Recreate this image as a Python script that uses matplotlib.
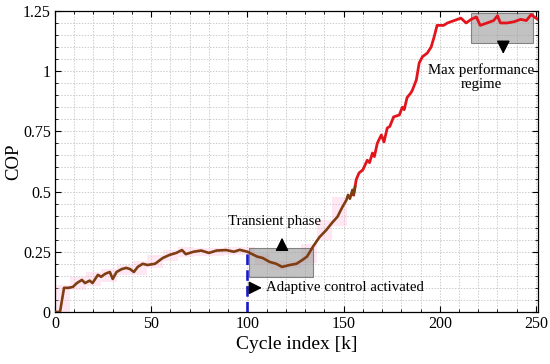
import numpy as np
import matplotlib
matplotlib.use("Agg")
import matplotlib.pyplot as plt
from matplotlib.ticker import MultipleLocator, FuncFormatter
from matplotlib.patches import Rectangle

# ---- data ----
brown_x = [0, 2.6, 4.7, 7, 9.3, 11.4, 14, 15.6, 18, 19.5, 22.3, 24, 26, 28.5, 30, 32,
           34.7, 37, 39, 41, 43, 45.6, 48, 52, 56, 59.6, 63, 66, 68, 72, 76, 80, 84,
           89, 93, 96, 100, 105, 108, 111.5, 115, 118, 122, 125.5, 128.6, 131, 134,
           137.4, 141, 144, 146.8, 149.4, 151.5, 152.3, 153.3, 154.6, 155.2, 156]
brown_y = [0, 0, 0.10, 0.10, 0.104, 0.12, 0.133, 0.12, 0.13, 0.12, 0.154, 0.146, 0.158,
           0.166, 0.137, 0.166, 0.178, 0.183, 0.178, 0.166, 0.187, 0.20, 0.195, 0.20,
           0.224, 0.237, 0.245, 0.257, 0.24, 0.25, 0.255, 0.245, 0.255, 0.257, 0.25,
           0.258, 0.25, 0.23, 0.224, 0.208, 0.20, 0.187, 0.195, 0.20, 0.216, 0.23, 0.27,
           0.31, 0.34, 0.37, 0.395, 0.436, 0.465, 0.486, 0.47, 0.507, 0.486, 0.52]

red_x = [155.2, 156.6, 158, 160, 162.3, 163.5, 165, 166, 167.5, 169.6, 171, 172.7, 174,
         176, 179, 180.5, 181.5, 183, 185, 185.7, 187.8, 189.3, 191, 193.5, 195.5, 197,
         198.6, 202, 204, 207.5, 211, 213.7, 216.3, 219, 221, 224.6, 228, 230, 231.5,
         235, 238.6, 242, 245, 247.5, 250, 251]
red_y = [0.486, 0.55, 0.577, 0.59, 0.63, 0.62, 0.66, 0.645, 0.70, 0.735, 0.706, 0.764,
         0.77, 0.81, 0.818, 0.85, 0.84, 0.89, 0.91, 0.92, 0.963, 1.034, 1.06, 1.075,
         1.10, 1.14, 1.19, 1.19, 1.20, 1.21, 1.22, 1.20, 1.215, 1.225, 1.19, 1.20, 1.21,
         1.23, 1.20, 1.20, 1.205, 1.215, 1.21, 1.235, 1.22, 1.215]

x_ticks = [0, 50, 100, 150, 200, 250]
y_ticks = [0, 0.25, 0.5, 0.75, 1.0, 1.25]

plt.rcParams['font.family'] = ['Liberation Serif', 'DejaVu Serif']
plt.rcParams['mathtext.fontset'] = 'stix'

fig = plt.figure(figsize=(5.5, 3.64), dpi=100)
ax = fig.add_axes([0.1, 0.143, 0.878, 0.827])

# pink blocky band around brown curve
bx = np.array(brown_x)
by = np.array(brown_y)
edges = np.arange(0, 160, 8)
for i in range(len(edges) - 1):
    m = (bx >= edges[i]) & (bx <= edges[i + 1])
    if m.sum() == 0:
        continue
    lo = by[m].min() - 0.012
    hi = by[m].max() + 0.012
    ax.add_patch(Rectangle((edges[i], lo), 8, hi - lo, facecolor='#ffb6d9',
                           alpha=0.3, edgecolor='none', zorder=1))

ax.plot(red_x, red_y, color='#e3141c', lw=2.0, zorder=4)
ax.plot(brown_x, brown_y, color='#7f3d12', lw=1.9, zorder=4)

# blue dashed vertical line
ax.plot([100, 100], [0, 0.25], color='#1a1ac8', lw=1.9, ls=(0, (4, 2)), zorder=5)

# gray boxes
ax.add_patch(Rectangle((101, 0.145), 33, 0.12, facecolor='#9a9a9a', alpha=0.6,
                       edgecolor='#444444', lw=0.8, zorder=3))
ax.add_patch(Rectangle((216, 1.117), 32.5, 0.123, facecolor='#9a9a9a', alpha=0.6,
                       edgecolor='#444444', lw=0.8, zorder=3))

# annotations
fs = 10.7
ap = dict(arrowstyle='-|>,head_length=0.8,head_width=0.4', color='black', lw=1)
ax.annotate('', xy=(118, 0.32), xytext=(118, 0.267), arrowprops=ap, zorder=6)
ax.text(114, 0.375, 'Transient phase', ha='center', va='center', fontsize=fs, zorder=6)
ax.annotate('', xy=(109, 0.1), xytext=(101.5, 0.1), arrowprops=ap, zorder=6)
ax.text(109.5, 0.1, 'Adaptive control activated', ha='left', va='center', fontsize=fs, zorder=6)
ax.annotate('', xy=(233, 1.06), xytext=(233, 1.117), arrowprops=ap, zorder=6)
ax.text(221.5, 0.975, 'Max performance\nregime', ha='center', va='center', fontsize=fs,
        linespacing=1.1, zorder=6)

ax.set_xlim(0, 251)
ax.set_ylim(0, 1.25)
ax.set_xticks(x_ticks)
ax.set_yticks(y_ticks)
ax.xaxis.set_minor_locator(MultipleLocator(10))
ax.yaxis.set_minor_locator(MultipleLocator(0.05))
ax.yaxis.set_major_formatter(FuncFormatter(lambda v, p: f'{v:g}'))
ax.tick_params(which='both', direction='in', top=True, right=True, labelsize=11.5)
ax.tick_params(which='major', length=4, pad=3)
ax.tick_params(which='minor', length=2.5)
ax.grid(which='both', color='#cccccc', ls=(0, (1.5, 1.5)), lw=0.7)
ax.set_axisbelow(True)
for s in ax.spines.values():
    s.set_linewidth(0.9)
ax.set_xlabel('Cycle index [k]', fontsize=14, labelpad=3)
ax.set_ylabel('COP', fontsize=13.5)
ax.yaxis.set_label_coords(-0.068, 0.5)

fig.savefig('out.png', dpi=100)
